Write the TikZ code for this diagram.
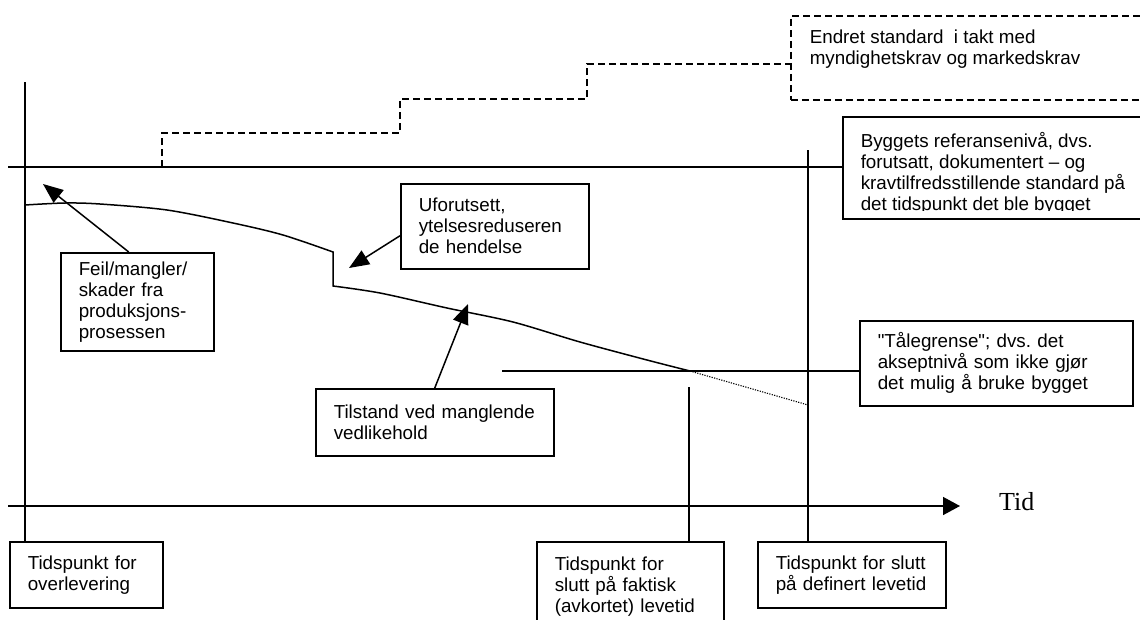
\documentclass[tikz,border=0pt]{standalone}
\usepackage{fontspec}
\setmainfont{Liberation Sans}[Ligatures=TeXOff]
\newfontfamily\serifface{Liberation Serif}
\usetikzlibrary{arrows.meta}
\hyphenpenalty=10000
\exhyphenpenalty=10000
\frenchspacing
\begin{document}
\begin{tikzpicture}[x=1pt, y=-1pt, line width=1.5pt,
  every node/.style={font=\fontsize{18.8}{21}\selectfont},
  txtbox/.style={draw, line width=1.5pt, anchor=north west, align=left,
    inner xsep=18pt, inner ysep=0pt},
  plain/.style={anchor=north west, align=left, inner sep=0pt},
  pointer/.style={-{Triangle[length=20pt,width=16pt]}, line width=1.5pt},
  stepline/.style={dash pattern=on 7pt off 4pt, line width=1.5pt},
  dotline/.style={line width=1.1pt, dash pattern=on 1.2pt off 1.3pt}]
\useasboundingbox (0,0) rectangle (1140,619);
\clip (0,0) rectangle (1140,619);

% text boxes
\node[txtbox, text width=117pt, minimum height=98pt] (feil) at (60,252)
  {Feil/mangler/\\skader fra\\produksjons-\\prosessen};
\node[txtbox, text width=152pt, minimum height=85pt] (ufo) at (400,183)
  {Uforutsett,\\ytelsesreduseren\\de hendelse};
\node[txtbox, text width=202pt, minimum height=67pt] (tilstand) at (315,388)
  {Tilstand ved manglende\\vedlikehold};
\node[txtbox, text width=237pt, minimum height=85pt] (tale) at (859,320)
  {"Tålegrense"; dvs. det\\akseptnivå som ikke gjør\\det mulig å bruke bygget};
\node[txtbox, text width=117pt, minimum height=66pt] (overlev) at (9,541)
  {Tidspunkt for\\overlevering};
\node[txtbox, text width=151pt, minimum height=90pt] (faktisk) at (536,541)
  {Tidspunkt for\\slutt på faktisk\\(avkortet) levetid};
\node[txtbox, text width=152pt, minimum height=66pt] (definert) at (757,541)
  {Tidspunkt for slutt\\på definert levetid};

% reference level box, its text cut off at the bottom
\node[draw, anchor=north west, minimum width=320pt, minimum height=102pt,
  inner sep=0pt] (bygg) at (842,116) {};
\begin{scope}
  \clip (842,116) rectangle (1140,210);
  \node[plain] (byggtekst) at (860,132)
    {Byggets referansenivå, dvs.\\forutsatt, dokumentert – og\\kravtilfredsstillende standard på\\det tidspunkt det ble bygget};
\end{scope}

% changed standard box
\node[draw, stepline, anchor=north west, minimum width=380pt, minimum height=84pt,
  inner sep=0pt] (endret) at (790,15) {};
\node[plain] (endrettekst) at (809,29)
  {Endret standard\ \ i takt med\\myndighetskrav og markedskrav};

% axes and level lines
\coordinate (yaxtop) at (25,82);
\coordinate (refstart) at (8,167);
\coordinate (taxstart) at (8,506);
\coordinate (taxend) at (960,506);
\coordinate (faktop) at (689,387);
\coordinate (deftop) at (808,150);
\coordinate (talestart) at (502,371);

\draw (yaxtop) -- (yaxtop |- overlev.north);
\draw (refstart) -- (refstart -| bygg.west);
\draw[-{Triangle[length=17pt,width=18pt]}] (taxstart) -- (taxend);
\node[anchor=base west, font=\serifface\fontsize{26}{30}\selectfont] (tid) at (995,510) {Tid};
\draw (faktop) -- (faktop |- faktisk.north);
\draw (deftop) -- (deftop |- definert.north);
\draw (talestart) -- (talestart -| tale.west);

% stepwise rising standard
\draw[stepline] (162,167) -- (162,133) -- (400,133) -- (400,99) -- (587,99)
  -- (587,64) -- (endret.west |- 0,64);

% condition curve
\draw plot[smooth] coordinates {(25,205) (65,203) (100,204) (167,210) (233,223) (283,235) (333,252)}
  -- plot[smooth] coordinates {(333,286) (380,293) (447,308) (513,322) (580,342) (647,360) (690,371)};
\draw[dotline] (690,371) -- (808,405);

% pointers
\coordinate (feiltip) at (43,184);
\coordinate (ufotip) at (349,268);
\coordinate (tiltip) at (468,304);
\draw[pointer] ([xshift=-8.5pt]feil.north) -- (feiltip);
\draw[pointer] ([yshift=-9.5pt]ufo.west) -- (ufotip);
\draw[pointer] (tilstand.north) -- (tiltip);
\end{tikzpicture}
\end{document}
